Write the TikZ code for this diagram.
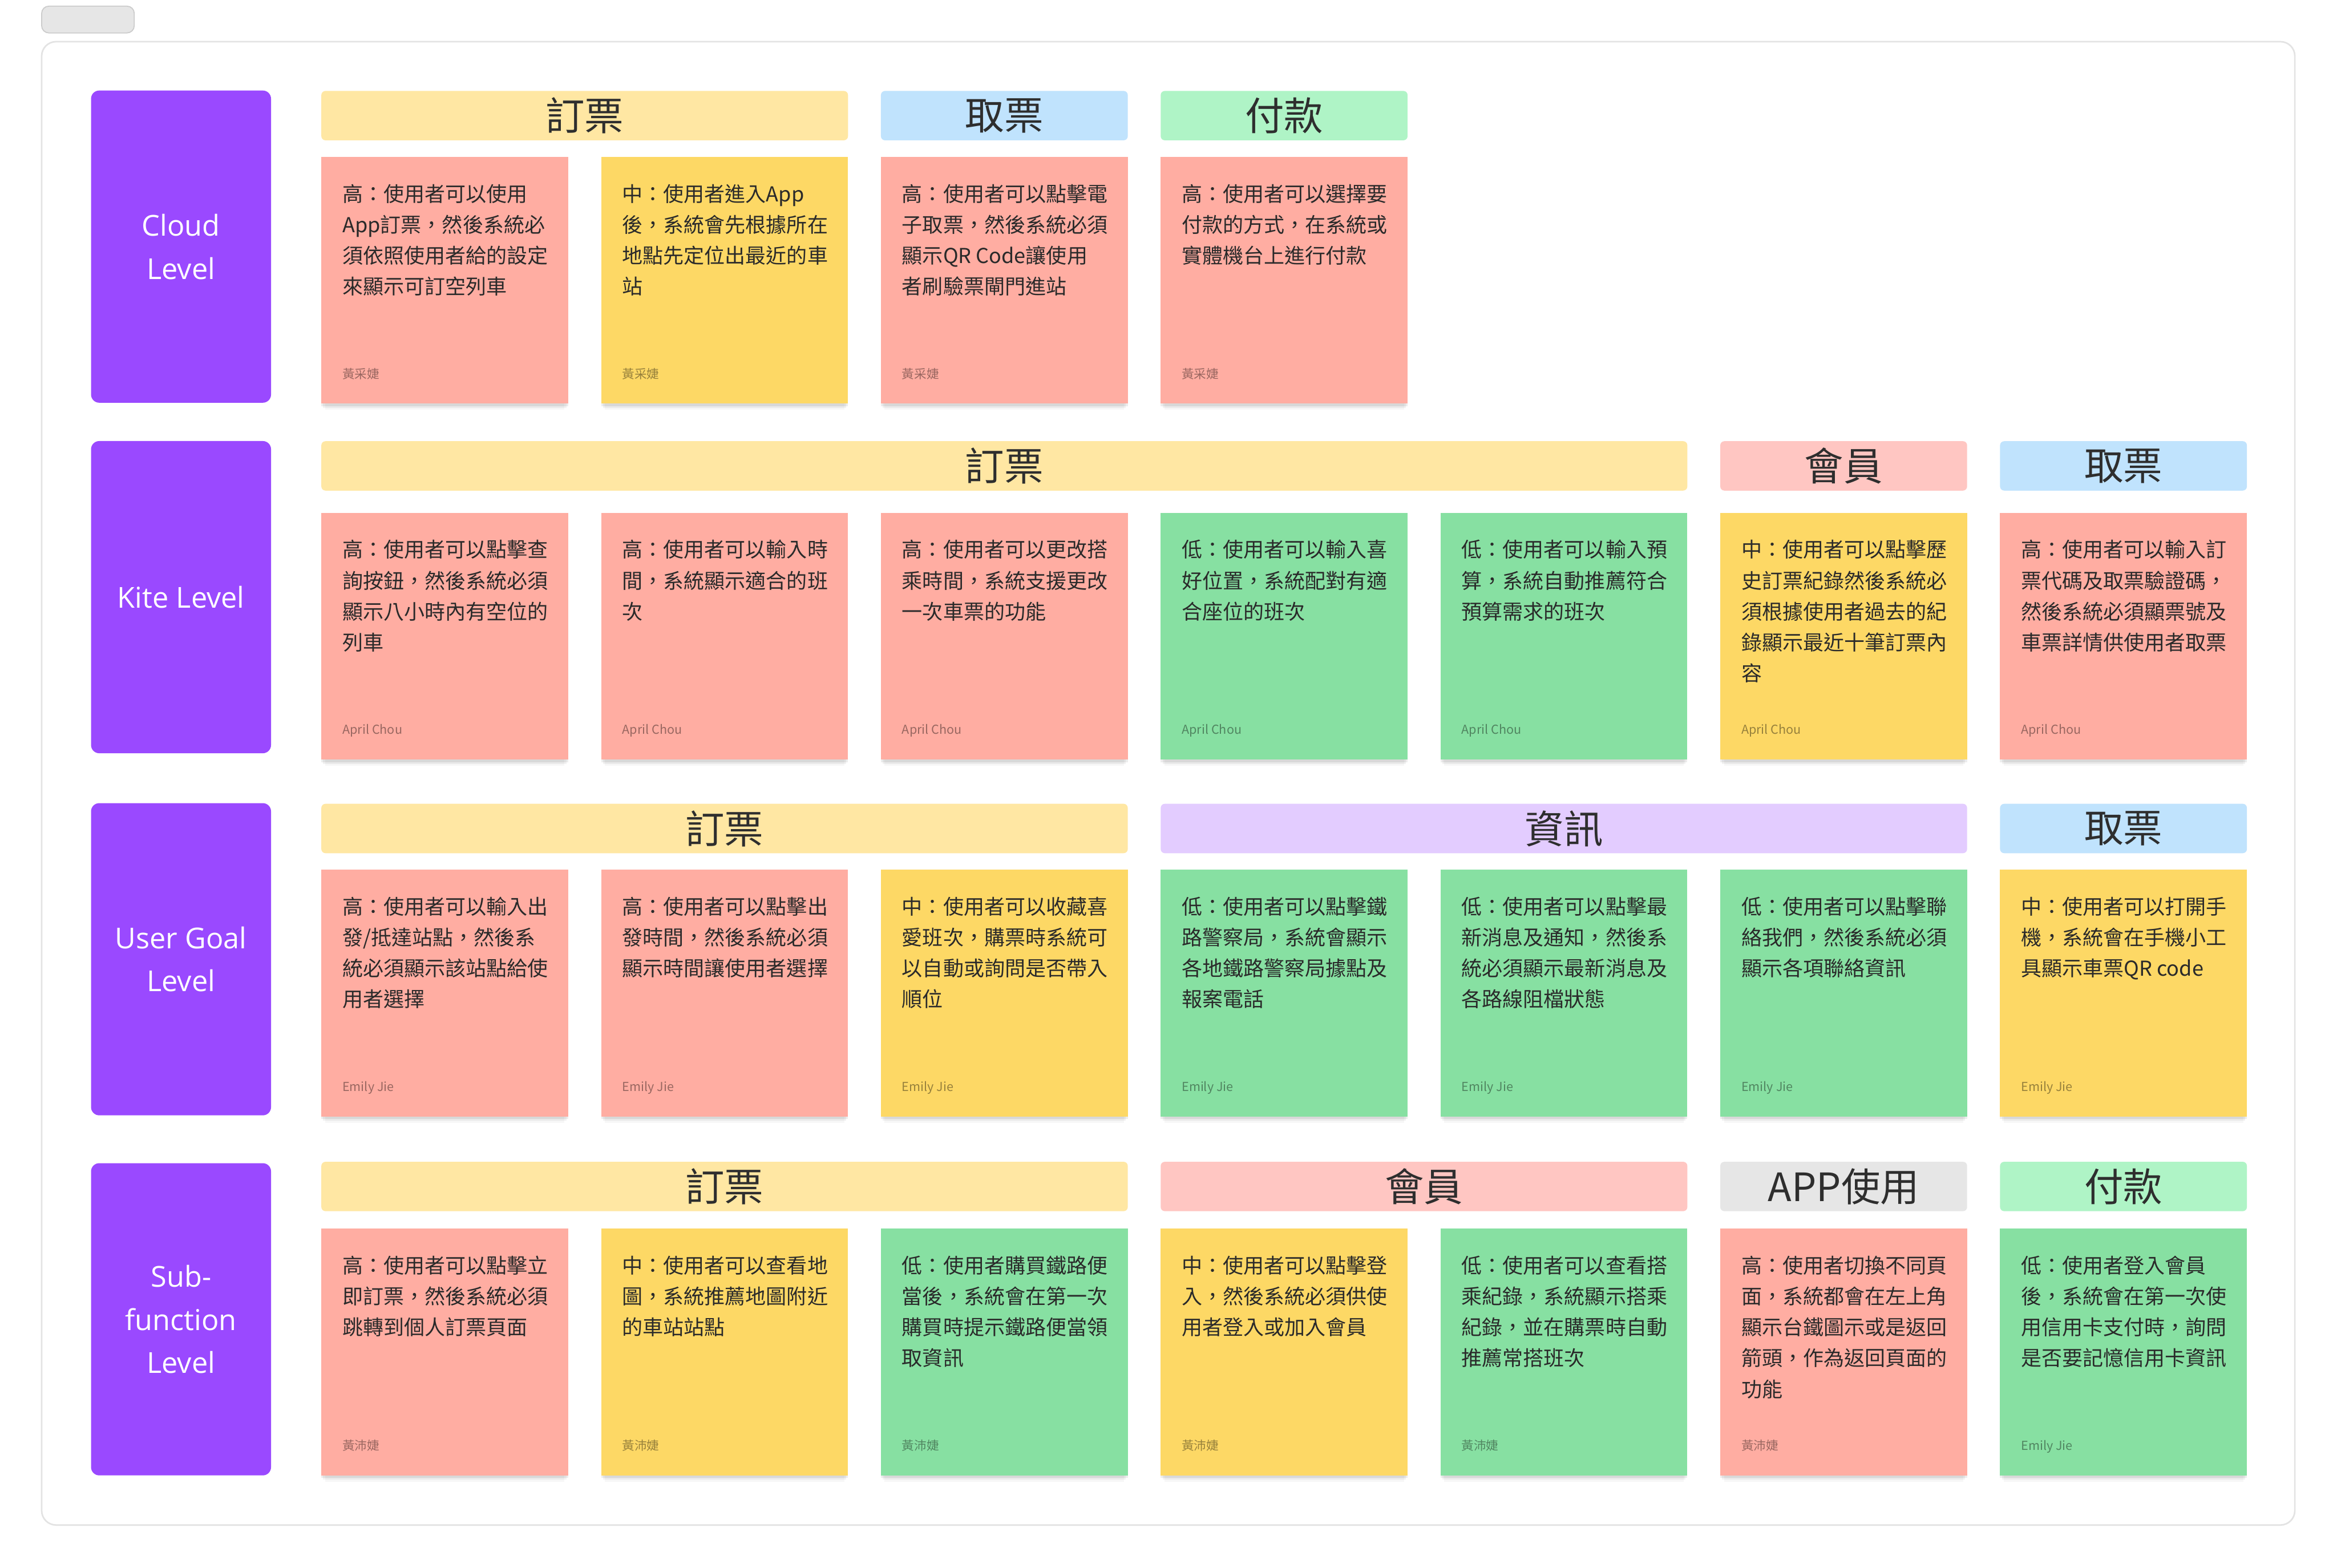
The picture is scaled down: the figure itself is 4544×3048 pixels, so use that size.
\documentclass[tikz,border=0pt]{standalone}
\usepackage{fontspec}
\setmainfont{Noto Sans CJK TC}
\newfontfamily\lblfont{Open Sans}
\usetikzlibrary{calc,shadows}
\definecolor{nsalmon}{HTML}{FFADA2}
\definecolor{nyellow}{HTML}{FDD865}
\definecolor{ngreen}{HTML}{87E0A2}
\definecolor{lvlpurple}{HTML}{9A49FF}
\definecolor{hyellow}{HTML}{FFE7A3}
\definecolor{hblue}{HTML}{C0E3FD}
\definecolor{hgreen}{HTML}{AFF4C6}
\definecolor{hpink}{HTML}{FFC6C2}
\definecolor{hlav}{HTML}{E3CCFF}
\definecolor{hgray}{HTML}{E6E6E6}
\definecolor{framegray}{HTML}{E3E3E3}
\definecolor{tabborder}{HTML}{CCCCCC}
\definecolor{notetextcol}{HTML}{2A2A2A}
\definecolor{hdrtext}{HTML}{2E2E2E}
\tikzset{
  notebox/.style={rectangle, inner sep=0pt, minimum width=120pt, minimum height=120pt, anchor=north west, draw=none,
    drop shadow={shadow xshift=0pt, shadow yshift=-1.2pt, opacity=0.07, fill=black},
    drop shadow={shadow xshift=0pt, shadow yshift=-3pt, shadow scale=0.985, opacity=0.05, fill=black},
    drop shadow={shadow xshift=0pt, shadow yshift=-5pt, shadow scale=0.97, opacity=0.03, fill=black}},
  notetext/.style={anchor=north west, inner sep=0pt, align=left, font=\fontsize{10pt}{15pt}\selectfont, text=notetextcol},
  noteauthor/.style={anchor=base west, inner sep=0pt, font=\fontsize{6pt}{7pt}\selectfont, text=black, text opacity=0.4},
  hdr/.style={rectangle, anchor=north west, minimum height=24pt, rounded corners=2pt, inner sep=0pt, draw=none,
    font=\fontsize{19pt}{22pt}\selectfont, text=hdrtext},
  lvl/.style={rectangle, fill=lvlpurple, rounded corners=4pt, minimum width=87.5pt, minimum height=151.75pt, inner sep=0pt,
    align=center, text=white, font=\lblfont\fontsize{14pt}{21pt}\selectfont},
  framebox/.style={rectangle, draw=framegray, line width=0.75pt, rounded corners=7pt, inner sep=0pt, fill=white},
  tabbox/.style={rectangle, draw=tabborder, fill=hgray, line width=0.5pt, rounded corners=3.5pt, inner sep=0pt}
}
\newcommand\stickynote[6]{%
  \node[notebox, fill=#4] (#1) at (#2,#3) {};
  \node[notetext] (#1-t) at ($(#1.north west)+(41,47)$) {\rule{0pt}{10pt}#5};
  \node[noteauthor] (#1-a) at ($(#1.south west)+(41,-50)$) {#6};
}
\begin{document}
\begin{tikzpicture}[x=0.25pt,y=-0.25pt]
\useasboundingbox (0,0) rectangle (4544,3048);
\fill[white] (0,0) rectangle (4544,3048);
\node[tabbox, minimum width=45pt, minimum height=13pt] (tab) at (171,38) {};
\node[framebox, minimum width=1095.25pt, minimum height=721pt] (frame) at (2271.5,1523) {};

% level boxes
\node[lvl] (lvl1) at (352,479.5) {Cloud\\Level};
\node[lvl] (lvl2) at (352,1161) {Kite Level};
\node[lvl] (lvl3) at (352,1865) {User Goal\\Level};
\node[lvl] (lvl4) at (352,2565) {Sub-\\function\\Level};

% row 1 headers
\node[hdr, fill=hyellow, minimum width=256pt] (h1a) at (624,176) {訂票};
\node[hdr, fill=hblue, minimum width=120pt] (h1b) at (1712,176) {取票};
\node[hdr, fill=hgreen, minimum width=120pt] (h1c) at (2256,176) {付款};
% row 1 notes
\stickynote{n11}{624}{304}{nsalmon}{高：使用者可以使用\\App訂票，然後系統必\\須依照使用者給的設定\\來顯示可訂空列車}{黃采婕}
\stickynote{n12}{1168}{304}{nyellow}{中：使用者進入App\\後，系統會先根據所在\\地點先定位出最近的車\\站}{黃采婕}
\stickynote{n13}{1712}{304}{nsalmon}{高：使用者可以點擊電\\子取票，然後系統必須\\顯示QR Code讓使用\\者刷驗票閘門進站}{黃采婕}
\stickynote{n14}{2256}{304}{nsalmon}{高：使用者可以選擇要\\付款的方式，在系統或\\實體機台上進行付款}{黃采婕}

% row 2 headers
\node[hdr, fill=hyellow, minimum width=664pt] (h2a) at (624,857) {訂票};
\node[hdr, fill=hpink, minimum width=120pt] (h2b) at (3344,857) {會員};
\node[hdr, fill=hblue, minimum width=120pt] (h2c) at (3888,857) {取票};
% row 2 notes
\stickynote{n21}{624}{996}{nsalmon}{高：使用者可以點擊查\\詢按鈕，然後系統必須\\顯示八小時內有空位的\\列車}{April Chou}
\stickynote{n22}{1168}{996}{nsalmon}{高：使用者可以輸入時\\間，系統顯示適合的班\\次}{April Chou}
\stickynote{n23}{1712}{996}{nsalmon}{高：使用者可以更改搭\\乘時間，系統支援更改\\一次車票的功能}{April Chou}
\stickynote{n24}{2256}{996}{ngreen}{低：使用者可以輸入喜\\好位置，系統配對有適\\合座位的班次}{April Chou}
\stickynote{n25}{2800}{996}{ngreen}{低：使用者可以輸入預\\算，系統自動推薦符合\\預算需求的班次}{April Chou}
\stickynote{n26}{3344}{996}{nyellow}{中：使用者可以點擊歷\\史訂票紀錄然後系統必\\須根據使用者過去的紀\\錄顯示最近十筆訂票內\\容}{April Chou}
\stickynote{n27}{3888}{996}{nsalmon}{高：使用者可以輸入訂\\票代碼及取票驗證碼，\\然後系統必須顯票號及\\車票詳情供使用者取票}{April Chou}

% row 3 headers
\node[hdr, fill=hyellow, minimum width=392pt] (h3a) at (624,1562) {訂票};
\node[hdr, fill=hlav, minimum width=392pt] (h3b) at (2256,1562) {資訊};
\node[hdr, fill=hblue, minimum width=120pt] (h3c) at (3888,1562) {取票};
% row 3 notes
\stickynote{n31}{624}{1690}{nsalmon}{高：使用者可以輸入出\\發/抵達站點，然後系\\統必須顯示該站點給使\\用者選擇}{Emily Jie}
\stickynote{n32}{1168}{1690}{nsalmon}{高：使用者可以點擊出\\發時間，然後系統必須\\顯示時間讓使用者選擇}{Emily Jie}
\stickynote{n33}{1712}{1690}{nyellow}{中：使用者可以收藏喜\\愛班次，購票時系統可\\以自動或詢問是否帶入\\順位}{Emily Jie}
\stickynote{n34}{2256}{1690}{ngreen}{低：使用者可以點擊鐵\\路警察局，系統會顯示\\各地鐵路警察局據點及\\報案電話}{Emily Jie}
\stickynote{n35}{2800}{1690}{ngreen}{低：使用者可以點擊最\\新消息及通知，然後系\\統必須顯示最新消息及\\各路線阻檔狀態}{Emily Jie}
\stickynote{n36}{3344}{1690}{ngreen}{低：使用者可以點擊聯\\絡我們，然後系統必須\\顯示各項聯絡資訊}{Emily Jie}
\stickynote{n37}{3888}{1690}{nyellow}{中：使用者可以打開手\\機，系統會在手機小工\\具顯示車票QR code}{Emily Jie}

% row 4 headers
\node[hdr, fill=hyellow, minimum width=392pt] (h4a) at (624,2258) {訂票};
\node[hdr, fill=hpink, minimum width=256pt] (h4b) at (2256,2258) {會員};
\node[hdr, fill=hgray, minimum width=120pt] (h4c) at (3344,2258) {APP使用};
\node[hdr, fill=hgreen, minimum width=120pt] (h4d) at (3888,2258) {付款};
% row 4 notes
\stickynote{n41}{624}{2388}{nsalmon}{高：使用者可以點擊立\\即訂票，然後系統必須\\跳轉到個人訂票頁面}{黃沛婕}
\stickynote{n42}{1168}{2388}{nyellow}{中：使用者可以查看地\\圖，系統推薦地圖附近\\的車站站點}{黃沛婕}
\stickynote{n43}{1712}{2388}{ngreen}{低：使用者購買鐵路便\\當後，系統會在第一次\\購買時提示鐵路便當領\\取資訊}{黃沛婕}
\stickynote{n44}{2256}{2388}{nyellow}{中：使用者可以點擊登\\入，然後系統必須供使\\用者登入或加入會員}{黃沛婕}
\stickynote{n45}{2800}{2388}{ngreen}{低：使用者可以查看搭\\乘紀錄，系統顯示搭乘\\紀錄，並在購票時自動\\推薦常搭班次}{黃沛婕}
\stickynote{n46}{3344}{2388}{nsalmon}{高：使用者切換不同頁\\面，系統都會在左上角\\顯示台鐵圖示或是返回\\箭頭，作為返回頁面的\\功能}{黃沛婕}
\stickynote{n47}{3888}{2388}{ngreen}{低：使用者登入會員\\後，系統會在第一次使\\用信用卡支付時，詢問\\是否要記憶信用卡資訊}{Emily Jie}
\end{tikzpicture}
\end{document}
